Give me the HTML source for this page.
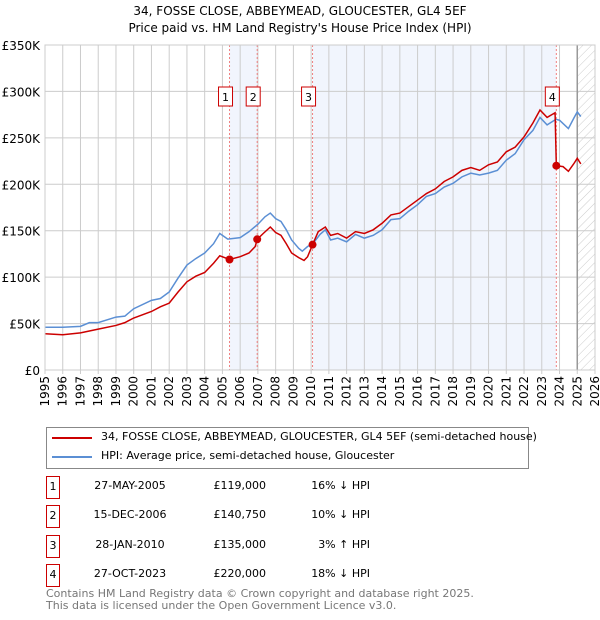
<!DOCTYPE html>
<html><head><meta charset="utf-8"><style>
body{margin:0;background:#fff;font-family:"DejaVu Sans","Liberation Sans",sans-serif;}
#wrap{position:relative;width:600px;height:620px;overflow:hidden;}
.t{position:absolute;font-size:11px;color:#000;white-space:nowrap;}
</style></head><body>
<div id="wrap">
<div class="t" style="left:0;width:600px;text-align:center;top:4px;font-size:12px">34, FOSSE CLOSE, ABBEYMEAD, GLOUCESTER, GL4 5EF</div>
<div class="t" style="left:0;width:600px;text-align:center;top:21px;font-size:12px">Price paid vs. HM Land Registry's House Price Index (HPI)</div>
<svg id="chart" width="600" height="420" style="position:absolute;left:0;top:0;font-family:'DejaVu Sans',sans-serif"></svg>
<div style="position:absolute;left:46px;top:427px;width:481px;height:40px;border:1px solid #888;">
 <div style="position:absolute;left:5px;top:9px;width:40px;height:2px;background:#cc0000"></div>
 <div class="t" style="left:54px;top:2px">34, FOSSE CLOSE, ABBEYMEAD, GLOUCESTER, GL4 5EF (semi-detached house)</div>
 <div style="position:absolute;left:5px;top:28px;width:40px;height:2px;background:#5b8fd4"></div>
 <div class="t" style="left:54px;top:21px">HPI: Average price, semi-detached house, Gloucester</div>
</div>
<div id="table"></div>
<div class="t" style="left:46px;top:588px;color:#777;line-height:12px">Contains HM Land Registry data © Crown copyright and database right 2025.<br>This data is licensed under the Open Government Licence v3.0.</div>
</div>
<script>
const hpiYears=[1995,1996,1997,1997.5,1998,1999,1999.5,2000,2001,2001.5,2002,2002.5,2003,2003.5,2004,2004.5,2004.85,2005.3,2006,2006.5,2007,2007.4,2007.7,2008,2008.3,2008.6,2008.9,2009.3,2009.5,2009.8,2010.1,2010.5,2010.8,2011.1,2011.5,2012,2012.5,2013,2013.5,2014,2014.5,2015,2015.5,2016,2016.5,2017,2017.5,2018,2018.5,2019,2019.5,2020,2020.5,2021,2021.5,2022,2022.5,2022.9,2023.3,2023.8,2024,2024.5,2024.8,2025.0,2025.2];
const hpiValues=[46,46,47,51,51,57,58,66,75,77,84,99,113,120,126,136,147,141,142.5,149,157,165,169,163,160,151,140,131,128,133,136,146,151,140,142,138,146,142,145,151,162,163,171,178,187,190,197,201,208,212,210,212,215,226,233,248,258,272,264,270,269,260,271,278,273];
const redYears=[1995,1996,1997,1998,1999,1999.5,2000,2001,2001.5,2002,2002.5,2003,2003.5,2004,2004.5,2004.85,2005.4,2006,2006.5,2006.85,2006.96,2007.3,2007.7,2008,2008.3,2008.6,2008.9,2009.3,2009.6,2009.8,2010.08,2010.4,2010.8,2011.1,2011.5,2012,2012.5,2013,2013.5,2014,2014.5,2015,2015.5,2016,2016.5,2017,2017.5,2018,2018.5,2019,2019.5,2020,2020.5,2021,2021.5,2022,2022.5,2022.9,2023.3,2023.75,2023.82,2024.2,2024.5,2024.8,2025.0,2025.2];
const redValues=[39,38,40,44,48,51,56,63,68,72,84,95,101,105,115,123,119,122,126,133,140.75,147,154,148,145,136,126,121,118,122,135,149,154,145,147,142,149,147,151,158,167,169,176,183,190,195,203,208,215,218,215,221,224,235,240,251,266,280,272,277,220,219,214,222,228,222];
const saleYears=[2005.4,2006.96,2010.08,2023.82];
const saleValues=[119,140.75,135,220];
const saleLabels=["1","2","3","4"];
const saleDates=["27-MAY-2005","15-DEC-2006","28-JAN-2010","27-OCT-2023"];
const salePrices=["£119,000","£140,750","£135,000","£220,000"];
const saleDiffs=["16% ↓ HPI","10% ↓ HPI","3% ↑ HPI","18% ↓ HPI"];
const yTicks=[0,50,100,150,200,250,300,350];
const yTickLabels=["£0","£50K","£100K","£150K","£200K","£250K","£300K","£350K"];
const xTicks=[1995,1996,1997,1998,1999,2000,2001,2002,2003,2004,2005,2006,2007,2008,2009,2010,2011,2012,2013,2014,2015,2016,2017,2018,2019,2020,2021,2022,2023,2024,2025,2026];

const L=45,R=595,T=45,B=370;
const xS=y=>L+(y-1995)/(2026-1995)*(R-L);
const yS=v=>B-v/350*(B-T);
const svg=document.getElementById('chart');
const NS='http://www.w3.org/2000/svg';
function mk(tag,attrs,parent){const e=document.createElementNS(NS,tag);for(const k in attrs)e.setAttribute(k,attrs[k]);(parent||svg).appendChild(e);return e;}
const defs=mk('defs',{});
const pat=mk('pattern',{id:'hatch',width:6,height:6,patternUnits:'userSpaceOnUse',patternTransform:'rotate(45)'},defs);
mk('line',{x1:0,y1:0,x2:0,y2:6,stroke:'#ccc','stroke-width':1},pat);
let s=mk('rect',{x:xS(saleYears[0]),y:T,width:xS(saleYears[1])-xS(saleYears[0]),height:B-T,fill:'#eef3fc',opacity:0.8});

s=mk('rect',{x:xS(saleYears[2]),y:T,width:xS(saleYears[3])-xS(saleYears[2]),height:B-T,fill:'#eef3fc',opacity:0.8});

s=mk('rect',{x:xS(2025),y:T,width:R-xS(2025),height:B-T,fill:'url(#hatch)'});

xTicks.forEach((t,i)=>{
 const g=mk('line',{x1:xS(t),x2:xS(t),y1:T,y2:B+4,stroke:'#ccc','stroke-width':1});
 
 const tx=xS(t)+4,ty=B+6;
 const lab=mk('text',{x:tx,y:ty,'font-size':12,'text-anchor':'end',transform:`rotate(-90 ${tx} ${ty})`,fill:'#000'});
 lab.textContent=t;
 
});
yTicks.forEach((t,i)=>{
 const g=mk('line',{x1:L,x2:R,y1:yS(t),y2:yS(t),stroke:'#ccc','stroke-width':1});
 
 const lab=mk('text',{x:40,y:yS(t)+5,'font-size':12,'text-anchor':'end',fill:'#000'});
 lab.textContent=yTickLabels[i];
 
});
let v=mk('line',{x1:xS(2025),x2:xS(2025),y1:T,y2:B,stroke:'#999','stroke-width':1.5});

saleYears.forEach((y,i)=>{
 const l=mk('line',{x1:xS(y),x2:xS(y),y1:T,y2:B,stroke:'#f08080','stroke-width':1,'stroke-dasharray':'2,2'});
 
});
const hp=mk('polyline',{points:hpiYears.map((y,i)=>xS(y)+','+yS(hpiValues[i])).join(' '),fill:'none',stroke:'#5b8fd4','stroke-width':1.5});

const rp=mk('polyline',{points:redYears.map((y,i)=>xS(y)+','+yS(redValues[i])).join(' '),fill:'none',stroke:'#cc0000','stroke-width':1.5});

saleYears.forEach((y,i)=>{
 const c=mk('circle',{cx:xS(y),cy:yS(saleValues[i]),r:4,fill:'#cc0000'});
 
 const bx=xS(y)-4;
 const r=mk('rect',{x:bx-7,y:87,width:14,height:19,fill:'#fff',stroke:'#cc0000','stroke-width':1});
 
 const t=mk('text',{x:bx,y:101,'font-size':11,'text-anchor':'middle',fill:'#000'});
 t.textContent=saleLabels[i];
 
});
mk('rect',{x:L,y:T,width:R-L,height:B-T,fill:'none',stroke:'#ccc'});
const tb=document.getElementById('table');
const rowY=[476,505,535,564];
saleLabels.forEach((lab,i)=>{
 const row=document.createElement('div');
 
 
 row.style.cssText=`position:absolute;left:0;top:${rowY[i]}px;width:600px;height:24px;`;
 row.innerHTML=`<div class="t" style="left:46px;top:0;width:12px;height:21px;border:1px solid #cc0000;text-align:center;line-height:20px">${lab}</div>
 <div class="t" style="left:80px;width:100px;text-align:center;top:3px">${saleDates[i]}</div>
 <div class="t" style="left:200px;width:66px;text-align:right;top:3px">${salePrices[i]}</div>
 <div class="t" style="left:290px;width:80px;text-align:right;top:3px">${saleDiffs[i]}</div>`;
 tb.appendChild(row);
});
</script>
</body></html>
